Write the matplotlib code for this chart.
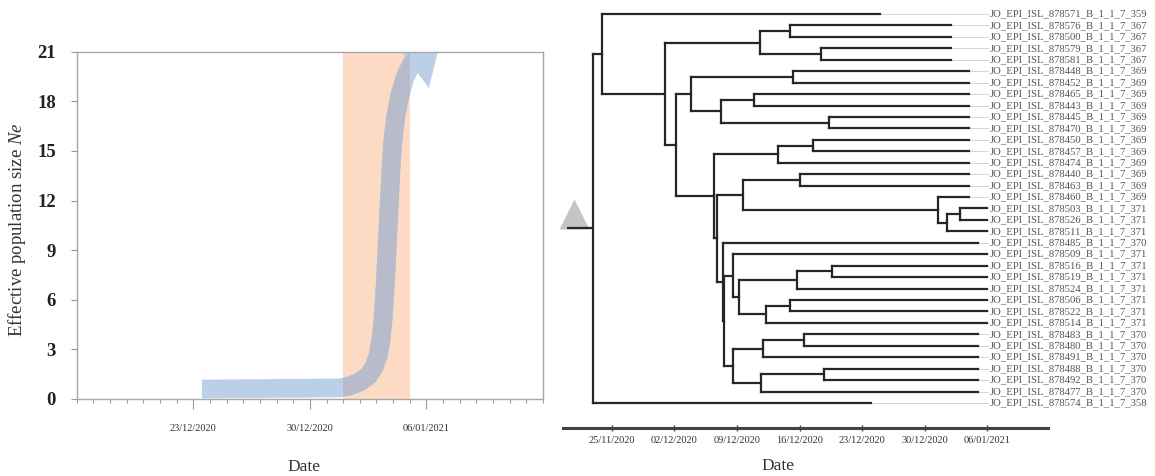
import matplotlib
matplotlib.use('Agg')
import matplotlib.pyplot as plt
import matplotlib.dates as mdates
from datetime import datetime

plt.rcParams['font.family'] = ['Liberation Serif', 'DejaVu Serif']
plt.rcParams['mathtext.fontset'] = 'custom'
plt.rcParams['mathtext.it'] = 'Liberation Serif:italic'

# ---------------- left panel data (days after 16/12/2020) ----------------
ne_days = [7.52, 15.8, 16.4, 17.0, 17.5, 17.85, 18.09, 18.27, 18.39, 18.51,
           18.63, 18.75, 18.87, 18.99, 19.17, 19.41, 19.71, 20.07, 20.43]
ne_vals = [0.6, 0.67, 0.79, 1.03, 1.39, 1.93, 2.6, 3.57, 4.78, 6.59,
           9.0, 11.43, 13.85, 15.66, 17.17, 18.38, 19.41, 20.19, 20.68]
arrow_tip_day, arrow_tip_val = 21.8, 21.5
span_days = (16.0, 20.0)
left_xticks = ['2020-12-23', '2020-12-30', '2021-01-06']
left_yticks = [0, 3, 6, 9, 12, 15, 18, 21]

# ---------------- right panel data (days after 25/11/2020) ----------------
tip_labels = [
    'JO_EPI_ISL_878571_B_1_1_7_359', 'JO_EPI_ISL_878576_B_1_1_7_367',
    'JO_EPI_ISL_878500_B_1_1_7_367', 'JO_EPI_ISL_878579_B_1_1_7_367',
    'JO_EPI_ISL_878581_B_1_1_7_367', 'JO_EPI_ISL_878448_B_1_1_7_369',
    'JO_EPI_ISL_878452_B_1_1_7_369', 'JO_EPI_ISL_878465_B_1_1_7_369',
    'JO_EPI_ISL_878443_B_1_1_7_369', 'JO_EPI_ISL_878445_B_1_1_7_369',
    'JO_EPI_ISL_878470_B_1_1_7_369', 'JO_EPI_ISL_878450_B_1_1_7_369',
    'JO_EPI_ISL_878457_B_1_1_7_369', 'JO_EPI_ISL_878474_B_1_1_7_369',
    'JO_EPI_ISL_878440_B_1_1_7_369', 'JO_EPI_ISL_878463_B_1_1_7_369',
    'JO_EPI_ISL_878460_B_1_1_7_369', 'JO_EPI_ISL_878503_B_1_1_7_371',
    'JO_EPI_ISL_878526_B_1_1_7_371', 'JO_EPI_ISL_878511_B_1_1_7_371',
    'JO_EPI_ISL_878485_B_1_1_7_370', 'JO_EPI_ISL_878509_B_1_1_7_371',
    'JO_EPI_ISL_878516_B_1_1_7_371', 'JO_EPI_ISL_878519_B_1_1_7_371',
    'JO_EPI_ISL_878524_B_1_1_7_371', 'JO_EPI_ISL_878506_B_1_1_7_371',
    'JO_EPI_ISL_878522_B_1_1_7_371', 'JO_EPI_ISL_878514_B_1_1_7_371',
    'JO_EPI_ISL_878483_B_1_1_7_370', 'JO_EPI_ISL_878480_B_1_1_7_370',
    'JO_EPI_ISL_878491_B_1_1_7_370', 'JO_EPI_ISL_878488_B_1_1_7_370',
    'JO_EPI_ISL_878492_B_1_1_7_370', 'JO_EPI_ISL_878477_B_1_1_7_370',
    'JO_EPI_ISL_878574_B_1_1_7_358',
]
tip_days = [30] + [38] * 4 + [40] * 12 + [42] * 3 + [41] + [42] * 7 + [41] * 6 + [29]

node_names = ['root', 'A', 'B', 'C', 'E', 'F', 'D', 'G', 'I', 'J', 'K', 'L',
              'H', 'M', 'R', 'P', 'Q', 'S', 'T', 'V', 'U', 'W1', 'W2', 'X',
              'AA', 'AB', 'AB2', 'AC', 'AC2', 'Y', 'AD', 'AD2', 'AE', 'AE2']
node_days = [-2.16, -1.15, 5.94, 16.57, 19.93, 23.40, 7.17, 8.85, 20.24, 12.21,
             15.90, 24.30, 11.42, 18.62, 22.54, 11.76, 14.70, 21.05, 36.54,
             37.48, 38.97, 12.46, 12.54, 13.58, 14.25, 20.68, 24.60, 17.27,
             19.96, 13.58, 16.88, 21.54, 16.69, 23.74]
node_children = [
    ['A', 't34'], ['t0', 'B'], ['C', 'D'], ['E', 'F'], ['t1', 't2'], ['t3', 't4'],
    ['G', 'H'], ['I', 'J'], ['t5', 't6'], ['K', 'L'], ['t7', 't8'], ['t9', 't10'],
    ['M', 'P'], ['R', 't13'], ['t11', 't12'], ['Q', 'W1'], ['S', 'T'],
    ['t14', 't15'], ['t16', 'V'], ['U', 't19'], ['t17', 't18'], ['t20', 'W2'],
    ['X', 'Y'], ['t21', 'AA'], ['AB', 'AC'], ['AB2', 't24'], ['t22', 't23'],
    ['AC2', 't27'], ['t25', 't26'], ['AD', 'AE'], ['AD2', 't30'], ['t28', 't29'],
    ['AE2', 't33'], ['t31', 't32'],
]
root_stem_day = -5.04
label_day = 42.25
right_xticks = ['2020-11-25', '2020-12-02', '2020-12-09', '2020-12-16',
                '2020-12-23', '2020-12-30', '2021-01-06']

BLUE = '#bccfe9'
GREY_CURVE = '#b8bcca'
ORANGE = '#fcdac3'
TREE = '#262626'

fig = plt.figure(figsize=(11.55, 4.76), dpi=100)

# ================= left: effective population size =================
ax1 = fig.add_axes([0.0665, 0.1618, 0.4036, 0.7296])
b1 = mdates.date2num(datetime(2020, 12, 16))
cx = [b1 + d for d in ne_days]

span = ax1.axvspan(b1 + span_days[0], b1 + span_days[1], color=ORANGE, lw=0, zorder=1)
ax1.plot(cx, ne_vals, color=BLUE, lw=13.5, solid_capstyle='butt',
         solid_joinstyle='round', zorder=2)
grey_part, = ax1.plot(cx, ne_vals, color=GREY_CURVE, lw=13.5, solid_capstyle='butt',
                      solid_joinstyle='round', zorder=3)
grey_part.set_clip_path(span)

# arrow head, starting from the second-to-last curve point
head = ax1.annotate('', xy=(b1 + arrow_tip_day, arrow_tip_val), xytext=(cx[-2], ne_vals[-2]),
                    arrowprops=dict(arrowstyle='simple,head_length=0.85,head_width=1.4,tail_width=0.4',
                                    mutation_scale=30, fc=BLUE, ec='none',
                                    shrinkA=0, shrinkB=0),
                    annotation_clip=False, zorder=2)
head.arrow_patch.set_clip_box(ax1.bbox)
head.arrow_patch.set_clip_on(True)

ax1.set_xlim(b1, b1 + 28)
ax1.set_ylim(0, 21)
ax1.set_xticks([mdates.datestr2num(s) for s in left_xticks])
ax1.xaxis.set_major_formatter(mdates.DateFormatter('%d/%m/%Y'))
ax1.xaxis.set_minor_locator(mdates.DayLocator())
ax1.set_yticks(left_yticks)
for s in ax1.spines.values():
    s.set_color('#a8a8a8')
    s.set_linewidth(1)
ax1.tick_params(axis='x', which='major', length=7, width=0.8, color='#999999',
                labelsize=7.5, pad=11, labelcolor='#333333')
ax1.tick_params(axis='x', which='minor', length=3, width=0.8, color='#999999')
ax1.tick_params(axis='y', length=4, width=0.8, color='#999999', pad=11,
                labelsize=13.5)
for t in ax1.get_yticklabels():
    t.set_fontweight('bold')
    t.set_color('#222222')
ax1.set_ylabel('Effective population size $Ne$', fontsize=13.5, color='#333333')
ax1.yaxis.set_label_coords(-0.105, 0.487)
ax1.set_xlabel('Date', fontsize=12.5, color='#333333')
ax1.xaxis.set_label_coords(0.4866, -0.172)

# ================= right: time-scaled tree =================
ax2 = fig.add_axes([0.4874, 0.1008, 0.4199, 0.8887])
b2 = mdates.date2num(datetime(2020, 11, 25))

pos_x = {n: b2 + d for n, d in zip(node_names, node_days)}
pos_y = {}
for i, d in enumerate(tip_days):
    pos_x[f't{i}'] = b2 + d
    pos_y[f't{i}'] = i
children = dict(zip(node_names, node_children))


def place(name):
    if name not in pos_y:
        ys = [place(c) for c in children[name]]
        pos_y[name] = (min(ys) + max(ys)) / 2
    return pos_y[name]


place('root')

lw_tree = 1.6
for n in node_names:
    ys = [pos_y[c] for c in children[n]]
    ax2.plot([pos_x[n], pos_x[n]], [min(ys), max(ys)], color=TREE, lw=lw_tree,
             solid_capstyle='projecting', zorder=3)
    for c in children[n]:
        ax2.plot([pos_x[n], pos_x[c]], [pos_y[c], pos_y[c]], color=TREE, lw=lw_tree,
                 solid_capstyle='projecting', zorder=3)
ax2.plot([b2 + root_stem_day, pos_x['root']], [pos_y['root'], pos_y['root']],
         color=TREE, lw=lw_tree, solid_capstyle='butt', zorder=3)
# collapsed-clade triangle on the root stem
ax2.plot(b2 + root_stem_day + 0.8, pos_y['root'] - 1.25, marker='^', markersize=21,
         color='#c4c4c4', mec='none', zorder=2, clip_on=False)

for i, lab in enumerate(tip_labels):
    ax2.plot([b2 + tip_days[i], b2 + label_day - 0.1], [i, i], color='#d0d0d0',
             lw=0.6, zorder=1)
    ax2.text(b2 + label_day, i, lab, va='center', ha='left', fontsize=7.7,
             color='#555555', clip_on=False)

ax2.set_xlim(b2 - 5.49, b2 + 48.82)
ax2.set_ylim(36.19, -0.787)
ax2.set_xticks([mdates.datestr2num(s) for s in right_xticks])
ax2.xaxis.set_major_formatter(mdates.DateFormatter('%d/%m/%Y'))
ax2.set_yticks([])
for k in ['top', 'right', 'left']:
    ax2.spines[k].set_visible(False)
ax2.spines['bottom'].set_color('#444444')
ax2.spines['bottom'].set_linewidth(2.2)
ax2.tick_params(axis='x', direction='inout', length=4, width=1, color='#444444',
                labelsize=7.5, pad=4, labelcolor='#333333')
ax2.set_xlabel('Date', fontsize=12.5, color='#333333')
ax2.xaxis.set_label_coords(0.443, -0.072)

fig.savefig('out.png', dpi=100)
